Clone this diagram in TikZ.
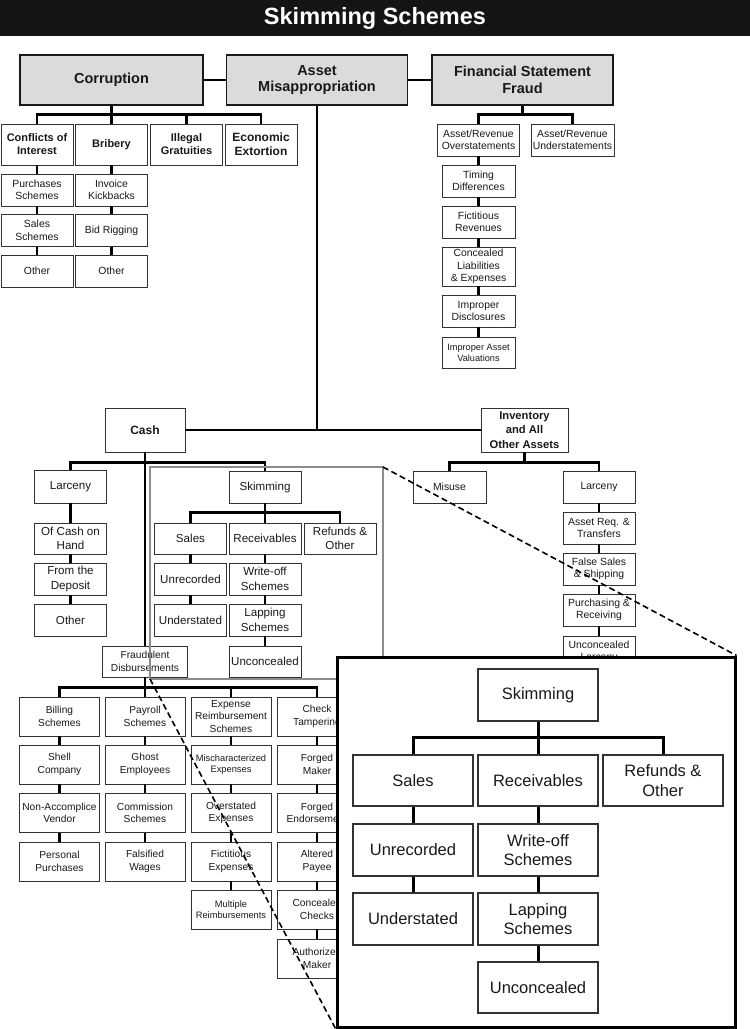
\documentclass[tikz,border=0pt]{standalone}
\usepackage{fontspec}
\setmainfont{Liberation Sans}
\usepackage{tikz}

\begin{document}
\begin{tikzpicture}[
  x=1pt, y=-1pt,
  boxbase/.style={draw=black!80, line width=0.9pt, align=center, inner sep=0.5pt, text=black!90},
  topbox/.style={boxbase, draw=black!90, line width=1.1pt, fill=black!14, minimum width=181pt, minimum height=50pt, font=\bfseries\fontsize{14.5}{16.5}\selectfont},
  catbox/.style={boxbase, minimum width=72pt, minimum height=41pt, font=\bfseries\fontsize{11}{13}\selectfont},
  leaf/.style={boxbase, minimum width=72pt, minimum height=32pt, font=\fontsize{10.4}{12.5}\selectfont},
  cashleaf/.style={leaf, font=\fontsize{11.6}{14.5}\selectfont},
  tinyleaf/.style={leaf, font=\fontsize{9.2}{11}\selectfont},
  fdleaf/.style={leaf, minimum width=80pt, minimum height=39pt, font=\fontsize{10.2}{12.5}\selectfont},
  bigleaf/.style={boxbase, line width=1.3pt, minimum width=120pt, minimum height=51pt, font=\fontsize{16.5}{19.5}\selectfont},
  link/.style={line width=2.2pt},
  biglink/.style={line width=3pt},
  zoomframe/.style={draw=black!45, line width=1.1pt},
  zoomline/.style={line width=1.6pt, dash pattern=on 6pt off 3.5pt},
]
\useasboundingbox (0,0) rectangle (750,1029);

% Title bar
\fill[black!92] (0,0) rectangle (750,36);
\node[font=\bfseries\fontsize{23.5}{25}\selectfont, text=white] (title) at (375,18) {Skimming Schemes};

% Top level
\node[topbox, minimum width=183pt] (corr) at (111.5,80) {Corruption};
\node[topbox] (asset) at (317,80) {Asset\\Misappropriation};
\node[topbox] (fsf) at (522.5,80) {Financial Statement\\Fraud};

\draw[link] (corr.east) -- (asset.west);
\draw[link] (asset.east) -- (fsf.west);

% Corruption branch
\node[catbox] (coi) at (37,144.5) {Conflicts of\\Interest};
\node[catbox] (brib) at (111.5,144.5) {Bribery};
\node[catbox] (ig) at (186.5,144.5) {Illegal\\Gratuities};
\node[catbox, font=\bfseries\fontsize{12}{14}\selectfont] (ee) at (261,144.5) {Economic\\Extortion};

\node[leaf] (cpur) at (37,190) {Purchases\\Schemes};
\node[leaf] (csal) at (37,230.5) {Sales\\Schemes};
\node[leaf] (coth) at (37,271) {Other};
\node[leaf] (binv) at (111.5,190) {Invoice\\Kickbacks};
\node[leaf] (bbid) at (111.5,230.5) {Bid Rigging};
\node[leaf] (both) at (111.5,271) {Other};

\draw[link] (corr.south) -- ++(0,9) -| (coi.north);
\draw[link] (corr.south) -- ++(0,9) -| (brib.north);
\draw[link] (corr.south) -- ++(0,9) -| (ig.north);
\draw[link] (corr.south) -- ++(0,9) -| (ee.north);
\draw[link] (coi.south) -- (cpur.north);
\draw[link] (cpur.south) -- (csal.north);
\draw[link] (csal.south) -- (coth.north);
\draw[link] (brib.south) -- (binv.north);
\draw[link] (binv.south) -- (bbid.north);
\draw[link] (bbid.south) -- (both.north);

% Financial statement branch
\node[leaf, minimum width=82pt] (aro) at (478.5,140) {Asset/Revenue\\Overstatements};
\node[leaf, minimum width=83pt] (aru) at (572.5,140) {Asset/Revenue\\Understatements};
\node[leaf, minimum width=73pt] (timing) at (478.5,181) {Timing\\Differences};
\node[leaf, minimum width=73pt] (fictrev) at (478.5,222) {Fictitious\\Revenues};
\node[leaf, minimum width=73pt, minimum height=39pt] (conliab) at (478.5,266.5) {Concealed\\Liabilities\\\& Expenses};
\node[leaf, minimum width=73pt] (impdis) at (478.5,311) {Improper\\Disclosures};
\node[tinyleaf, minimum width=73pt, minimum height=31pt] (impval) at (478.5,352.5) {Improper Asset\\Valuations};

\draw[link] (fsf.south) -- ++(0,9) -| (aro.north);
\draw[link] (fsf.south) -- ++(0,9) -| (aru.north);
\draw[link] (aro.south) -- (timing.north);
\draw[link] (timing.south) -- (fictrev.north);
\draw[link] (fictrev.south) -- (conliab.north);
\draw[link] (conliab.south) -- (impdis.north);
\draw[link] (impdis.south) -- (impval.north);

% Asset misappropriation branch
\node[catbox, minimum width=80pt, minimum height=44pt, font=\bfseries\fontsize{12}{14}\selectfont] (cash) at (145,430) {Cash};
\node[catbox, minimum width=87pt, minimum height=44pt, inner sep=0pt, font=\bfseries\fontsize{11.2}{14.3}\selectfont] (inv) at (524.5,430) {Inventory\\and All\\Other Assets};

\draw[link] (asset.south) -- (asset.south |- cash.east);
\draw[link] (cash.east) -- (inv.west);

% Cash: larceny
\node[cashleaf, minimum height=33pt] (clarc) at (70.5,486.5) {Larceny};
\node[cashleaf, minimum height=31pt] (onhand) at (70.5,538.5) {Of Cash on\\Hand};
\node[cashleaf] (deposit) at (70.5,579) {From the\\Deposit};
\node[cashleaf] (clother) at (70.5,620) {Other};

% Cash: skimming
\node[cashleaf] (skim) at (265,487) {Skimming};
\node[cashleaf, minimum height=31pt] (sales) at (190.5,538.5) {Sales};
\node[cashleaf, minimum height=31pt] (recv) at (265,538.5) {Receivables};
\node[cashleaf, minimum height=31pt] (refund) at (340,538.5) {Refunds \&\\Other};
\node[cashleaf] (unrec) at (190.5,579) {Unrecorded};
\node[cashleaf] (under) at (190.5,620) {Understated};
\node[cashleaf] (wroff) at (265,579) {Write-off\\Schemes};
\node[cashleaf] (lapping) at (265,620) {Lapping\\Schemes};
\node[cashleaf, minimum height=31pt] (unconc) at (265,661.5) {Unconcealed};

% Cash: fraudulent disbursements
\node[leaf, minimum width=85pt, minimum height=31pt, font=\fontsize{10.2}{12.5}\selectfont] (fd) at (145,661.5) {Fraudulent\\Disbursements};

\draw[link] (cash.south) -- ++(0,10) -| (clarc.north);
\draw[link] (cash.south) -- ++(0,10) -| (skim.north);
\draw[link] (cash.south) -- (fd.north);
\draw[link] (clarc.south) -- (onhand.north);
\draw[link] (onhand.south) -- (deposit.north);
\draw[link] (deposit.south) -- (clother.north);
\draw[link] (skim.south) -- ++(0,9) -| (sales.north);
\draw[link] (skim.south) -- ++(0,9) -| (recv.north);
\draw[link] (skim.south) -- ++(0,9) -| (refund.north);
\draw[link] (sales.south) -- (unrec.north);
\draw[link] (unrec.south) -- (under.north);
\draw[link] (recv.south) -- (wroff.north);
\draw[link] (wroff.south) -- (lapping.north);
\draw[link] (lapping.south) -- (unconc.north);

% Fraudulent disbursement schemes
\node[fdleaf] (bill) at (59.5,716.5) {Billing\\Schemes};
\node[fdleaf] (shell) at (59.5,764.5) {Shell\\Company};
\node[fdleaf] (nonacc) at (59.5,813) {Non-Accomplice\\Vendor};
\node[fdleaf] (perspur) at (59.5,861.5) {Personal\\Purchases};

\node[fdleaf] (payroll) at (145,716.5) {Payroll\\Schemes};
\node[fdleaf] (ghost) at (145,764.5) {Ghost\\Employees};
\node[fdleaf] (commis) at (145,813) {Commission\\Schemes};
\node[fdleaf] (falswag) at (145,861.5) {Falsified\\Wages};

\node[fdleaf] (expense) at (231,716.5) {Expense\\Reimbursement\\Schemes};
\node[fdleaf, font=\fontsize{9.3}{11.5}\selectfont] (mischar) at (231,764.5) {Mischaracterized\\Expenses};
\node[fdleaf] (overst) at (231,813) {Overstated\\Expenses};
\node[fdleaf] (fictexp) at (231,861.5) {Fictitious\\Expenses};
\node[fdleaf, font=\fontsize{9.3}{11.5}\selectfont] (multiple) at (231,909.5) {Multiple\\Reimbursements};

\node[fdleaf] (check) at (317,716.5) {Check\\Tampering};
\node[fdleaf] (fmaker) at (317,764.5) {Forged\\Maker};
\node[fdleaf] (fendors) at (317,813) {Forged\\Endorsement};
\node[fdleaf] (altpay) at (317,861.5) {Altered\\Payee};
\node[fdleaf] (conchk) at (317,909.5) {Concealed\\Checks};
\node[fdleaf] (authmk) at (317,958.5) {Authorized\\Maker};

\draw[link] (fd.south) -- ++(0,10) -| (bill.north);
\draw[link] (fd.south) -- ++(0,10) -| (payroll.north);
\draw[link] (fd.south) -- ++(0,10) -| (expense.north);
\draw[link] (fd.south) -- ++(0,10) -| (check.north);
\draw[link] (bill.south) -- (shell.north);
\draw[link] (shell.south) -- (nonacc.north);
\draw[link] (nonacc.south) -- (perspur.north);
\draw[link] (payroll.south) -- (ghost.north);
\draw[link] (ghost.south) -- (commis.north);
\draw[link] (commis.south) -- (falswag.north);
\draw[link] (expense.south) -- (mischar.north);
\draw[link] (mischar.south) -- (overst.north);
\draw[link] (overst.south) -- (fictexp.north);
\draw[link] (fictexp.south) -- (multiple.north);
\draw[link] (check.south) -- (fmaker.north);
\draw[link] (fmaker.south) -- (fendors.north);
\draw[link] (fendors.south) -- (altpay.north);
\draw[link] (altpay.south) -- (conchk.north);
\draw[link] (conchk.south) -- (authmk.north);

% Inventory branch
\node[leaf, minimum width=73pt, minimum height=32pt] (misuse) at (449.5,487) {Misuse};
\node[leaf, minimum height=32pt] (ilarc) at (599,487) {Larceny};
\node[leaf] (assetreq) at (599,528) {Asset Req. \&\\Transfers};
\node[leaf] (falsales) at (599,569) {False Sales\\\& Shipping};
\node[leaf] (purch) at (599,610) {Purchasing \&\\Receiving};
\node[leaf] (unclarc) at (599,652) {Unconcealed\\Larceny};

\draw[link] (inv.south) -- ++(0,10) -| (misuse.north);
\draw[link] (inv.south) -- ++(0,10) -| (ilarc.north);
\draw[link] (ilarc.south) -- (assetreq.north);
\draw[link] (assetreq.south) -- (falsales.north);
\draw[link] (falsales.south) -- (purch.north);
\draw[link] (purch.south) -- (unclarc.north);

% Zoom frame and guide lines
\coordinate (frbl) at (150,679);
\coordinate (frtr) at (383,467);
\draw[zoomframe] (frbl) rectangle (frtr);

\node[draw, line width=3pt, fill=white, minimum width=398pt, minimum height=370pt, inner sep=0pt] (zoombox) at (536,842) {};
\draw[zoomline] (frtr) -- (zoombox.north east);
\draw[zoomline] (frbl) -- (zoombox.south west);

% Enlarged skimming tree
\node[bigleaf, minimum height=52pt] (bskim) at (538,695) {Skimming};
\node[bigleaf] (bsales) at (413,780.5) {Sales};
\node[bigleaf] (brecv) at (538,780.5) {Receivables};
\node[bigleaf] (brefund) at (663,780.5) {Refunds \&\\Other};
\node[bigleaf, minimum height=52pt] (bunrec) at (413,850) {Unrecorded};
\node[bigleaf, minimum height=52pt] (bunder) at (413,919) {Understated};
\node[bigleaf, minimum height=52pt] (bwroff) at (538,850) {Write-off\\Schemes};
\node[bigleaf, minimum height=52pt] (blapping) at (538,919) {Lapping\\Schemes};
\node[bigleaf] (bunconc) at (538,987.5) {Unconcealed};

\draw[biglink] (bskim.south) -- ++(0,16) -| (bsales.north);
\draw[biglink] (bskim.south) -- ++(0,16) -| (brecv.north);
\draw[biglink] (bskim.south) -- ++(0,16) -| (brefund.north);
\draw[biglink] (bsales.south) -- (bunrec.north);
\draw[biglink] (bunrec.south) -- (bunder.north);
\draw[biglink] (brecv.south) -- (bwroff.north);
\draw[biglink] (bwroff.south) -- (blapping.north);
\draw[biglink] (blapping.south) -- (bunconc.north);

\end{tikzpicture}
\end{document}
